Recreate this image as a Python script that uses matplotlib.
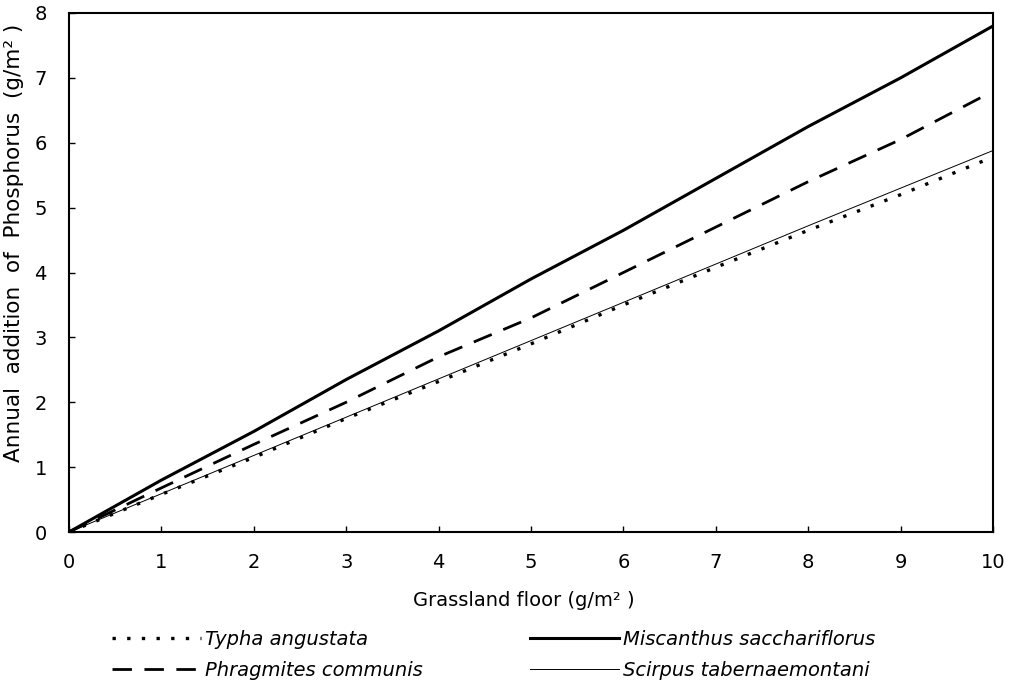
import matplotlib
matplotlib.use("Agg")
import matplotlib.pyplot as plt

plt.rcParams['font.family'] = ['DejaVu Sans']

x = [0, 1, 2, 3, 4, 5, 6, 7, 8, 9, 10]
x_phrag = [0, 1, 2, 3, 4, 5, 6, 7, 8, 9, 9.9]
typha = [0, 0.58, 1.15, 1.75, 2.32, 2.9, 3.5, 4.08, 4.65, 5.2, 5.78]
phragmites = [0, 0.68, 1.35, 2.0, 2.7, 3.3, 4.0, 4.7, 5.4, 6.05, 6.72]
miscanthus = [0, 0.8, 1.55, 2.35, 3.1, 3.9, 4.65, 5.45, 6.25, 7.0, 7.8]
scirpus = [0, 0.59, 1.18, 1.77, 2.36, 2.95, 3.54, 4.13, 4.72, 5.3, 5.88]

xticks = [0, 1, 2, 3, 4, 5, 6, 7, 8, 9, 10]
yticks = [0, 1, 2, 3, 4, 5, 6, 7, 8]

fig = plt.figure(figsize=(10.15, 6.85), dpi=100)
ax = fig.add_axes([69/1015, 1-532/685, (993-69)/1015, (532-13)/685])

l_typha, = ax.plot(x, typha, color='black', lw=2.4, linestyle=(0, (1.0, 3.4)),
                   label='Typha angustata')
l_phrag, = ax.plot(x_phrag, phragmites, color='black', lw=2.0, linestyle=(0, (7, 4.5)),
                   label='Phragmites communis')
l_misc, = ax.plot(x, miscanthus, color='black', lw=2.2, label='Miscanthus sacchariflorus')
l_scir, = ax.plot(x, scirpus, color='black', lw=0.7, label='Scirpus tabernaemontani')

ax.set_xlim(0, 10)
ax.set_ylim(0, 8)
ax.set_xticks(xticks)
ax.set_yticks(yticks)
ax.tick_params(direction='in', length=4, width=1, labelsize=14)
ax.tick_params(axis='x', pad=15)
ax.tick_params(axis='y', pad=16)
ax.tick_params(top=False, right=False)
for s in ax.spines.values():
    s.set_linewidth(1.5)

fig.text(524/1015, 1-600/685, 'Grassland floor (g/m² )', fontsize=14,
         ha='center', va='center')
fig.text(14/1015, 1-243/685, 'Annual  addition  of  Phosphorus  (g/m² )', fontsize=15.5,
         ha='center', va='center', rotation=90)

leg_kw = dict(frameon=False, handlelength=4.6, handletextpad=0.2,
              borderpad=0, borderaxespad=0, labelspacing=0.6,
              prop={'style': 'italic', 'size': 14})
leg1 = fig.legend(handles=[l_typha, l_phrag], loc='upper left',
                  bbox_to_anchor=(112/1015, 1-630/685), **leg_kw)
leg2 = fig.legend(handles=[l_misc, l_scir], loc='upper left',
                  bbox_to_anchor=(530/1015, 1-630/685), **leg_kw)

fig.savefig('out.png', dpi=100)
